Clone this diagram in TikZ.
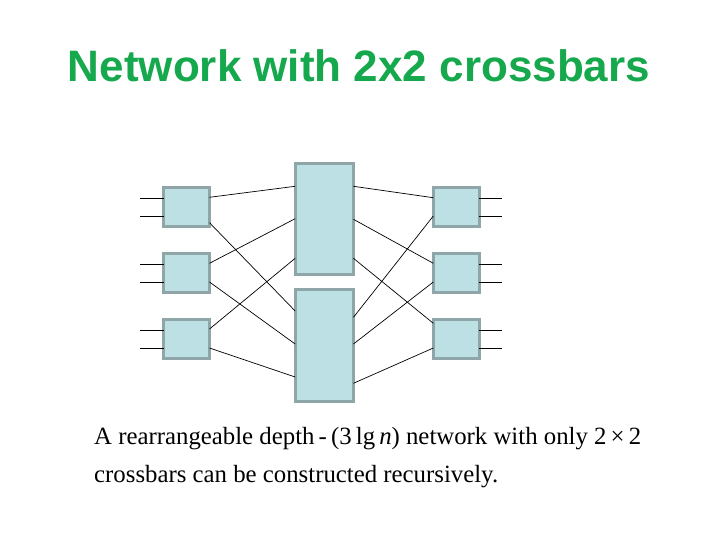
\documentclass[tikz,border=0pt]{standalone}
\usepackage{fontspec}
\setmainfont{Liberation Serif}
\newfontfamily\titlefont{Liberation Sans}
\usetikzlibrary{calc}
\definecolor{titlegreen}{HTML}{16A84C}
\definecolor{boxfill}{HTML}{BCE0E3}
\definecolor{boxline}{HTML}{8EA6A8}
\tikzset{
  xbar/.style={draw=boxline, fill=boxfill, line width=3pt, inner sep=0pt, outer sep=0pt, rectangle},
  small/.style={xbar, minimum width=46pt, minimum height=39pt},
  big/.style={xbar, minimum width=58.3pt, minimum height=111.3pt},
  wire/.style={black, line width=0.7pt},
  stub/.style={black, line width=0.9pt}
}
\begin{document}
\begin{tikzpicture}[x=1pt,y=-1pt]
\useasboundingbox (0,0) rectangle (720,540);
% title
\node[text=titlegreen, font=\titlefont\bfseries\fontsize{44}{50}\selectfont, anchor=base] (title) at (359,82) {Network with 2x2 crossbars};
% boxes (positions)
\node[small] (L1) at (186.5,207) {};
\node[small] (L2) at (186.5,273) {};
\node[small] (L3) at (186.5,339) {};
\node[big] (M1) at (324.3,218.8) {};
\node[big] (M2) at (324.3,345.5) {};
\node[small] (R1) at (456.3,207) {};
\node[small] (R2) at (456.3,273) {};
\node[small] (R3) at (456.3,339) {};
% wires behind boxes
\begin{scope}[on background layer/.style={}]
\end{scope}
\foreach \b/\ya/\yb in {1/198/216,2/264/282,3/330/348}{
  \draw[stub] (L\b.west |- 0,\ya) -- ++(-24,0);
  \draw[stub] (L\b.west |- 0,\yb) -- ++(-24,0);
  \draw[stub] (R\b.east |- 0,\ya) -- ++(23,0);
  \draw[stub] (R\b.east |- 0,\yb) -- ++(23,0);
}
\draw[wire] (L1.east |- 0,197.3) -- (M1.west |- 0,186.3);
\draw[wire] (L1.east |- 0,222.7) -- (M2.west |- 0,311);
\draw[wire] (L2.east |- 0,263.3) -- (M1.west |- 0,218.7);
\draw[wire] (L2.east |- 0,282) -- (M2.west |- 0,344);
\draw[wire] (L3.east |- 0,329) -- (M1.west |- 0,258.3);
\draw[wire] (L3.east |- 0,348) -- (M2.west |- 0,377);
\draw[wire] (M1.east |- 0,186.3) -- (R1.west |- 0,197.7);
\draw[wire] (M1.east |- 0,219.3) -- (R2.west |- 0,263.3);
\draw[wire] (M1.east |- 0,258.3) -- (R3.west |- 0,323.3);
\draw[wire] (M2.east |- 0,317.3) -- (R1.west |- 0,216);
\draw[wire] (M2.east |- 0,344) -- (R2.west |- 0,282);
\draw[wire] (M2.east |- 0,383.3) -- (R3.west |- 0,348);
% caption
\node[anchor=base west, inner sep=0pt, font=\fontsize{24.8}{30}\selectfont] (cap1) at (94,444)
  {A rearrangeable depth\,-\,(3\,lg\,\textit{n}) network with only 2\,×\,2};
\node[anchor=base west, inner sep=0pt, font=\fontsize{24.8}{30}\selectfont] (cap2) at (94,482)
  {crossbars can be constructed recursively.};
\end{tikzpicture}
\end{document}
